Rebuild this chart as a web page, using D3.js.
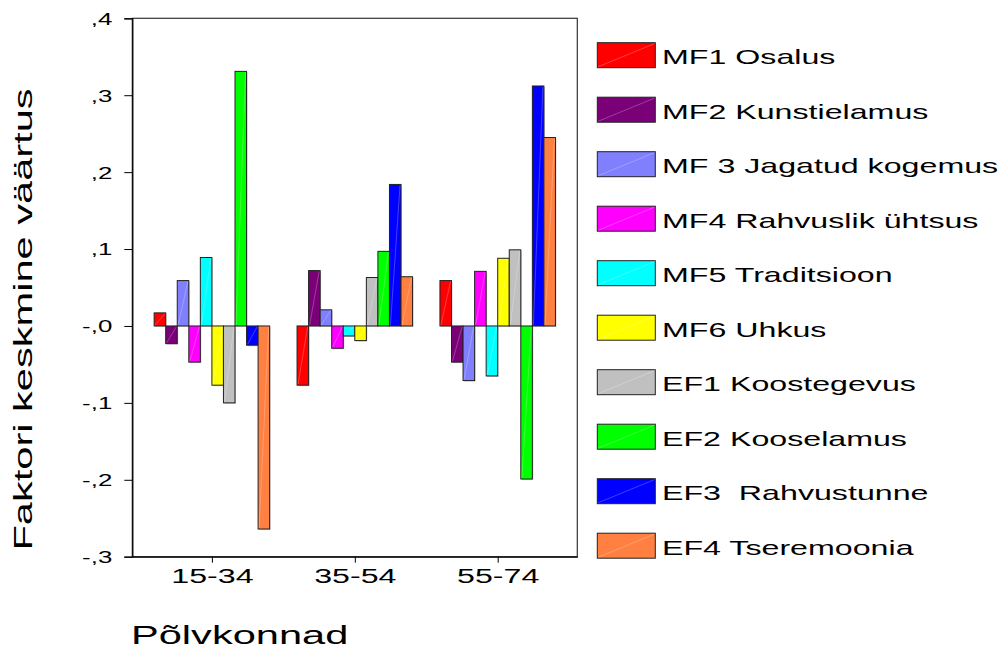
<!DOCTYPE html>
<html>
<head>
<meta charset="utf-8">
<script src="https://cdn.jsdelivr.net/npm/d3@7"></script>
<style>
    body { margin: 0; background: #fff; }
    svg { display: block; font-family: "Liberation Sans", Arial, sans-serif; }
    text { white-space: pre; }
</style>
</head>
<body>
<div id="chart"></div>
<script>
// data
var categories = ['15-34', '35-54', '55-74'];
var seriesNames = ['MF1 Osalus', 'MF2 Kunstielamus', 'MF 3 Jagatud kogemus', 'MF4 Rahvuslik ühtsus',
    'MF5 Traditsioon', 'MF6 Uhkus', 'EF1 Koostegevus', 'EF2 Kooselamus', 'EF3  Rahvustunne', 'EF4 Tseremoonia'];
var seriesColors = ['#ff0000', '#7a0078', '#8080ff', '#ff00ff', '#00ffff',
    '#ffff00', '#c0c0c0', '#00ff00', '#0000ff', '#ff8040'];
// one row per series: values for 15-34, 35-54, 55-74
var values = [
    [0.017, -0.077, 0.059],
    [-0.023, 0.072, -0.047],
    [0.059, 0.021, -0.071],
    [-0.047, -0.029, 0.071],
    [0.089, -0.013, -0.065],
    [-0.077, -0.019, 0.088],
    [-0.100, 0.063, 0.099],
    [0.331, 0.097, -0.199],
    [-0.025, 0.184, 0.312],
    [-0.264, 0.064, 0.245]
];
var yTicks = [0.4, 0.3, 0.2, 0.1, 0, -0.1, -0.2, -0.3];
var yTickLabels = [',4', ',3', ',2', ',1', '-,0', '-,1', '-,2', '-,3'];

var SX = 1.57; // the original fonts are drawn wide

var plot = { left: 132.3, right: 577.3, top: 18.3, bottom: 556.7 };

var svg = d3.select('#chart').append('svg')
    .attr('width', 1005)
    .attr('height', 649);

var y = d3.scaleLinear().domain([-0.3, 0.4]).range([plot.bottom, plot.top]);
var x = d3.scalePoint().domain(categories).range([plot.left, plot.right]).padding(0.557);
var xs = d3.scaleBand().domain(d3.range(seriesNames.length)).range([-57.75, 57.75]).padding(0);

function wide(sel, tx, ty, rot) {
    sel.attr('x', 0).attr('y', 0)
        .attr('transform', 'translate(' + tx + ',' + ty + ')' + (rot ? ' rotate(' + rot + ')' : '') + ' scale(' + SX + ',1)');
}

// frame
svg.append('rect')
    .attr('x', plot.left)
    .attr('y', plot.top)
    .attr('width', plot.right - plot.left)
    .attr('height', plot.bottom - plot.top)
    .attr('fill', 'none')
    .attr('stroke', '#333')
    .attr('stroke-width', 1.2);

// bars
var rows = [];
values.forEach(function(row, s) {
    row.forEach(function(v, c) {
        rows.push({ s: s, c: categories[c], v: v });
    });
});

var bars = svg.append('g').attr('class', 'bars');
bars.selectAll('rect.shadow').data(rows).enter().append('rect')
    .attr('class', 'shadow')
    .attr('x', function(d) { return x(d.c) + xs(d.s) + 1; })
    .attr('y', function(d) { return Math.min(y(d.v), y(0)) + 1; })
    .attr('width', xs.bandwidth())
    .attr('height', function(d) { return Math.abs(y(d.v) - y(0)); })
    .attr('fill', '#999')
    .attr('opacity', 0.5);
bars.selectAll('rect.bar').data(rows).enter().append('rect')
    .attr('class', 'bar')
    .attr('x', function(d) { return x(d.c) + xs(d.s); })
    .attr('y', function(d) { return Math.min(y(d.v), y(0)); })
    .attr('width', xs.bandwidth())
    .attr('height', function(d) { return Math.abs(y(d.v) - y(0)); })
    .attr('fill', function(d) { return seriesColors[d.s]; })
    .attr('stroke', '#222')
    .attr('stroke-width', 1);
bars.selectAll('line').data(rows).enter().append('line')
    .attr('x1', function(d) { return x(d.c) + xs(d.s) + 1; })
    .attr('x2', function(d) { return x(d.c) + xs(d.s) + xs.bandwidth() - 1; })
    .attr('y1', function(d) { return Math.max(y(d.v), y(0)) - 1; })
    .attr('y2', function(d) { return Math.min(y(d.v), y(0)) + 1; })
    .attr('stroke', '#fff')
    .attr('stroke-opacity', 0.35)
    .attr('stroke-width', 0.7);

// y axis
var yAxis = svg.append('g')
    .attr('transform', 'translate(' + plot.left + ',0)')
    .call(d3.axisLeft(y).tickValues(yTicks).tickSize(8).tickPadding(12)
        .tickFormat(function(d, i) { return yTickLabels[i]; }));
yAxis.select('.domain').attr('stroke', '#000').attr('stroke-width', 1.3);
yAxis.selectAll('.tick line').attr('stroke', '#000');
yAxis.selectAll('.tick text')
    .attr('font-size', 16.5)
    .attr('fill', '#000')
    .attr('dy', '0.36em')
    .each(function() { wide(d3.select(this), -20, 0); });

// x axis
var xAxis = svg.append('g')
    .attr('transform', 'translate(0,' + plot.bottom + ')')
    .call(d3.axisBottom(x).tickSize(6).tickSizeOuter(0));
xAxis.select('.domain').attr('stroke', '#000').attr('stroke-width', 1.3);
xAxis.selectAll('.tick line').attr('stroke', '#000');
xAxis.selectAll('.tick text')
    .attr('font-size', 20.5)
    .attr('fill', '#000')
    .attr('dy', 0)
    .each(function() { wide(d3.select(this), 0, 26.6); });

// titles
svg.append('text')
    .text('Faktori keskmine väärtus')
    .attr('font-size', 26.5)
    .attr('text-anchor', 'middle')
    .call(wide, 32.3, 319.5, -90);

svg.append('text')
    .text('Põlvkonnad')
    .attr('font-size', 26.5)
    .call(wide, 131, 644);

// legend
var legend = svg.append('g').attr('class', 'legend');
var item = legend.selectAll('g').data(seriesNames).enter().append('g')
    .attr('transform', function(d, i) { return 'translate(597.3,' + (42.7 + 54.5 * i) + ')'; });
item.append('rect')
    .attr('width', 58)
    .attr('height', 25)
    .attr('fill', function(d, i) { return seriesColors[i]; })
    .attr('stroke', '#222')
    .attr('stroke-width', 1);
item.append('line')
    .attr('x1', 1).attr('y1', 24)
    .attr('x2', 57).attr('y2', 1)
    .attr('stroke', '#fff')
    .attr('stroke-opacity', 0.35)
    .attr('stroke-width', 0.7);
item.append('text')
    .text(function(d) { return d; })
    .attr('font-size', 20.5)
    .attr('fill', '#000')
    .each(function() { wide(d3.select(this), 64.7, 21.3); });
</script>
</body>
</html>
